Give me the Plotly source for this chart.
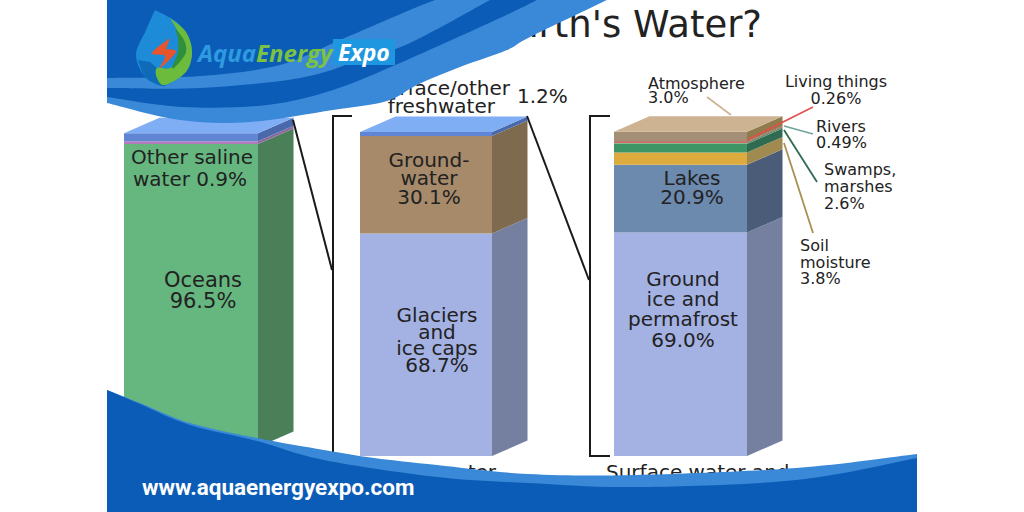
import plotly.graph_objects as go

# ---- data ----
col1_names = ["Oceans", "Other saline water", "Freshwater"]
col1_values = [96.5, 0.9, 2.5]
col2_names = ["Glaciers and ice caps", "Groundwater", "Surface/other freshwater"]
col2_values = [68.7, 30.1, 1.2]
col3_names = ["Ground ice and permafrost", "Lakes", "Soil moisture", "Swamps, marshes", "Rivers", "Living things", "Atmosphere"]
col3_values = [69.0, 20.9, 3.8, 2.6, 0.49, 0.26, 3.0]

col1_front = ["#66B67F", "#B27BBE", "#5F85D3"]
col1_side = ["#4A7F58", "#8C6AA0", "#4A69AB"]
col2_front = ["#A3B1E3", "#A68A6A", "#5F85D3"]
col2_side = ["#757FA0", "#7D6A4F", "#4A69AB"]
col3_front = ["#A3B1E3", "#6C89AE", "#DDAA3E", "#3D9464", "#8DB98F", "#D16A6A", "#A38E76"]
col3_side = ["#757FA0", "#4A5C78", "#A08A50", "#2F6B50", "#5F8F70", "#B0524F", "#8F7B4B"]

FONT = "DejaVu Sans"
INK = "#222222"
BLUE = "#0B5CB6"
LIGHT = "#3A89D8"

# column 1 stands a little higher and shorter than the other two, so it has its own scale
C1_BASE, C1_SCALE = 447, 3.14
C_BASE, C_SCALE = 456, 3.24

def Y(p):
    return (C_BASE - p) / C_SCALE

def PX(x):
    return x / 1024

def PY(y):
    return 1 - y / 512

def curve(pts, close_pts=()):
    """Catmull-Rom through pts, in paper coords, then straight through close_pts."""
    d = f"M{PX(pts[0][0]):.5f},{PY(pts[0][1]):.5f}"
    for i in range(len(pts) - 1):
        p0 = pts[max(i - 1, 0)]
        p1 = pts[i]
        p2 = pts[i + 1]
        p3 = pts[min(i + 2, len(pts) - 1)]
        c1 = (p1[0] + (p2[0] - p0[0]) / 6, p1[1] + (p2[1] - p0[1]) / 6)
        c2 = (p2[0] - (p3[0] - p1[0]) / 6, p2[1] - (p3[1] - p1[1]) / 6)
        d += (f" C{PX(c1[0]):.5f},{PY(c1[1]):.5f} {PX(c2[0]):.5f},{PY(c2[1]):.5f}"
              f" {PX(p2[0]):.5f},{PY(p2[1]):.5f}")
    for q in close_pts:
        d += f" L{PX(q[0]):.5f},{PY(q[1]):.5f}"
    return d + " Z"

def band(color, pts, close_pts):
    return dict(type="path", path=curve(pts, close_pts), fillcolor=color,
                line=dict(width=0), xref="paper", yref="paper", layer="above")

fig = go.Figure()

# ---- columns ----
DX, DPX = 35.5, 15.5
columns = [
    (191, 134, col1_names, col1_values, col1_front, col1_side, "#7FAEF5", "y", C1_SCALE),
    (426, 132, col2_names, col2_values, col2_front, col2_side, "#7FAEF5", "y2", C_SCALE),
    (680.5, 133, col3_names, col3_values, col3_front, col3_side, "#CDB391", "y2", C_SCALE),
]
for cx, w, names, values, front, side, top, axis, scale in columns:
    base = 0
    right = cx + w / 2
    left = cx - w / 2
    DY = DPX / scale
    for name, v, fc, sc in zip(names, values, front, side):
        fig.add_trace(go.Bar(x=[cx], y=[v], base=[base], width=[w], name=name, yaxis=axis,
                             marker=dict(color=fc, line=dict(width=0)), showlegend=False))
        fig.add_trace(go.Scatter(
            x=[right, right + DX, right + DX, right, right],
            y=[base, base + DY, base + v + DY, base + v, base], yaxis=axis,
            mode="lines", line=dict(width=0), fill="toself", fillcolor=sc,
            showlegend=False, hoverinfo="skip"))
        base += v
    fig.add_trace(go.Scatter(
        x=[left, left + DX, right + DX, right, left],
        y=[base, base + DY, base + DY, base, base], yaxis=axis,
        mode="lines", line=dict(width=0), fill="toself", fillcolor=top,
        showlegend=False, hoverinfo="skip"))

# ---- brackets, connectors, leaders ----
def line(xs, ps, color, width):
    fig.add_trace(go.Scatter(x=xs, y=[Y(p) for p in ps], mode="lines", yaxis="y2",
                             line=dict(color=color, width=width),
                             showlegend=False, hoverinfo="skip"))

line([352, 333, 333, 352], [116, 116, 456, 456], "#1A1A1A", 2)
line([610, 590, 590, 610], [116, 116, 456, 456], "#1A1A1A", 2)
line([293, 332], [120, 270], "#1A1A1A", 2)
line([527, 589], [116, 280], "#1A1A1A", 2)
line([707, 731], [97, 115], "#CDB391", 1.6)
line([813, 747], [107, 140], "#E0524F", 1.6)
line([784, 813], [126, 134], "#6FA59A", 1.6)
line([784, 817], [130, 182], "#2F6B50", 1.8)
line([784, 813], [143, 233], "#A89050", 1.8)

# ---- labels: text, x, y, size, anchor ----
labels = [
    ("Where is Earth's Water?", 762, 26, 37, "r"),
    ("Other saline", 192, 157, 20, "c"), ("water 0.9%", 190, 179, 20, "c"),
    ("Oceans", 203, 280, 21, "c"), ("96.5%", 203, 301, 21, "c"),
    ("Ground-", 429, 160, 20, "c"), ("water", 429, 178, 20, "c"), ("30.1%", 429, 197, 20, "c"),
    ("Glaciers", 437, 315, 20, "c"), ("and", 437, 332, 20, "c"),
    ("ice caps", 437, 348, 20, "c"), ("68.7%", 437, 365, 20, "c"),
    ("Surface/other", 510, 88, 20, "r"), ("freshwater", 495, 106, 20, "r"),
    ("1.2%", 517, 96, 20, "l"),
    ("Lakes", 692, 178, 20, "c"), ("20.9%", 692, 197, 20, "c"),
    ("Ground", 683, 279, 20, "c"), ("ice and", 683, 299, 20, "c"),
    ("permafrost", 683, 319, 20, "c"), ("69.0%", 683, 340, 20, "c"),
    ("Atmosphere", 648, 83, 16, "l"), ("3.0%", 648, 97, 16, "l"),
    ("Living things", 836, 81, 16, "c"), ("0.26%", 836, 98, 16, "c"),
    ("Rivers", 816, 126, 16, "l"), ("0.49%", 816, 142, 16, "l"),
    ("Swamps,", 824, 169, 16, "l"), ("marshes", 824, 186, 16, "l"), ("2.6%", 824, 203, 16, "l"),
    ("Soil", 800, 245, 16, "l"), ("moisture", 800, 262, 16, "l"), ("3.8%", 800, 278, 16, "l"),
    ("Freshwater", 496, 472, 20, "r"), ("Surface water and", 606, 472, 20, "l"),
]
pos = {"c": "middle center", "l": "middle right", "r": "middle left"}
fig.add_trace(go.Scatter(
    x=[l[1] for l in labels], y=[Y(l[2] + 2) for l in labels], text=[l[0] for l in labels],
    mode="text", textposition=[pos[l[4]] for l in labels], yaxis="y2",
    textfont=dict(family=FONT, size=[l[3] for l in labels], color=INK),
    showlegend=False, hoverinfo="skip"))

# ---- banners ----
top_outer = [(107, 103), (180, 120), (250, 122), (333, 110), (387, 101), (417, 85), (460, 67), (507, 50), (530, 37), (607, 0)]
top_dark = [(107, 97), (183, 107), (267, 105), (333, 90), (400, 63), (500, 18), (537, 0)]
top_wave = [(107, 88), (200, 88), (300, 78), (360, 60), (410, 43), (490, 0)]
top_wave_upper = [(107, 78), (200, 76), (280, 65), (340, 40), (410, 10), (435, 0)]
shapes = [
    band(LIGHT, top_outer, [(107, 0)]),
    band(BLUE, top_dark, [(107, 0)]),
    band(LIGHT, top_wave, [(107, 0)]),
    band(BLUE, top_wave_upper, [(107, 0)]),
]
bottom_top = [(107, 390), (140, 403), (190, 423), (257, 438), (324, 450), (374, 458), (437, 465), (528, 474), (636, 475), (796, 468), (917, 454)]
bottom_dark = [(107, 390), (140, 404), (190, 425), (257, 441), (324, 460), (437, 477), (528, 483), (636, 487), (796, 480), (917, 458)]
# white fade that hides the start of the bottom label, above the text and under the banner
shapes.append(dict(type="rect", xref="paper", yref="paper", x0=PX(370), x1=PX(469),
                   y0=PY(482), y1=PY(458), fillcolor="white", line=dict(width=0), layer="above"))
shapes += [
    band(LIGHT, bottom_top, [(917, 512), (107, 512)]),
    band(BLUE, bottom_dark, [(917, 512), (107, 512)]),
]
# logo
shapes += [
    band("#1E8BD8", [(155, 10), (146, 30), (136, 55), (146, 78), (165, 86), (185, 72), (192, 50), (180, 25), (155, 10)], []),
    band("#0F6BB8", [(138, 60), (146, 78), (165, 86), (160, 72), (150, 62)], []),
    band("#6CBB3C", [(170, 18), (186, 32), (192, 52), (186, 72), (165, 85), (157, 78), (157, 68), (170, 68), (184, 55), (182, 38)], []),
    band("#2F8F3A", [(175, 28), (184, 40), (186, 52), (178, 64), (172, 68), (178, 52), (178, 38)], []),
    band("#E8552A", [(170, 38), (152, 53), (165, 56), (160, 68), (176, 52), (166, 49)], []),
]
shapes.append(dict(type="rect", xref="paper", yref="paper", x0=PX(333), x1=PX(395),
                   y0=PY(65), y1=PY(39), fillcolor="#1E97E0", line=dict(width=0), layer="above"))

annotations = [
    dict(x=PX(194), y=PY(52), xref="paper", yref="paper", xanchor="left", yanchor="middle", showarrow=False,
         text='<b><i><span style="color:#2E9BE0">Aqua</span><span style="color:#7CC242">Energy</span></i></b>',
         font=dict(family="Open Sans", size=24)),
    dict(x=PX(364), y=PY(52), xref="paper", yref="paper", xanchor="center", yanchor="middle", showarrow=False,
         text="<b><i>Expo</i></b>", font=dict(family="Open Sans", size=23, color="white")),
    dict(x=PX(140), y=PY(487), xref="paper", yref="paper", xanchor="left", yanchor="middle", showarrow=False,
         text="<b>www.aquaenergyexpo.com</b>", font=dict(family="Roboto", size=22.5, color="white")),
]

fig.update_layout(
    width=1024, height=512, autosize=False,
    margin=dict(l=0, r=0, t=0, b=0),
    paper_bgcolor="white", plot_bgcolor="white",
    barmode="overlay", showlegend=False,
    xaxis=dict(range=[0, 1024], visible=False, fixedrange=True),
    yaxis=dict(range=[(C1_BASE - 512) / C1_SCALE, C1_BASE / C1_SCALE], visible=False, fixedrange=True),
    yaxis2=dict(range=[Y(512), Y(0)], visible=False, fixedrange=True, overlaying="y"),
    shapes=shapes, annotations=annotations,
)
fig.write_html("out.html", config={"displayModeBar": False},
               post_script="document.body.style.margin='0';document.body.style.overflow='hidden';")
